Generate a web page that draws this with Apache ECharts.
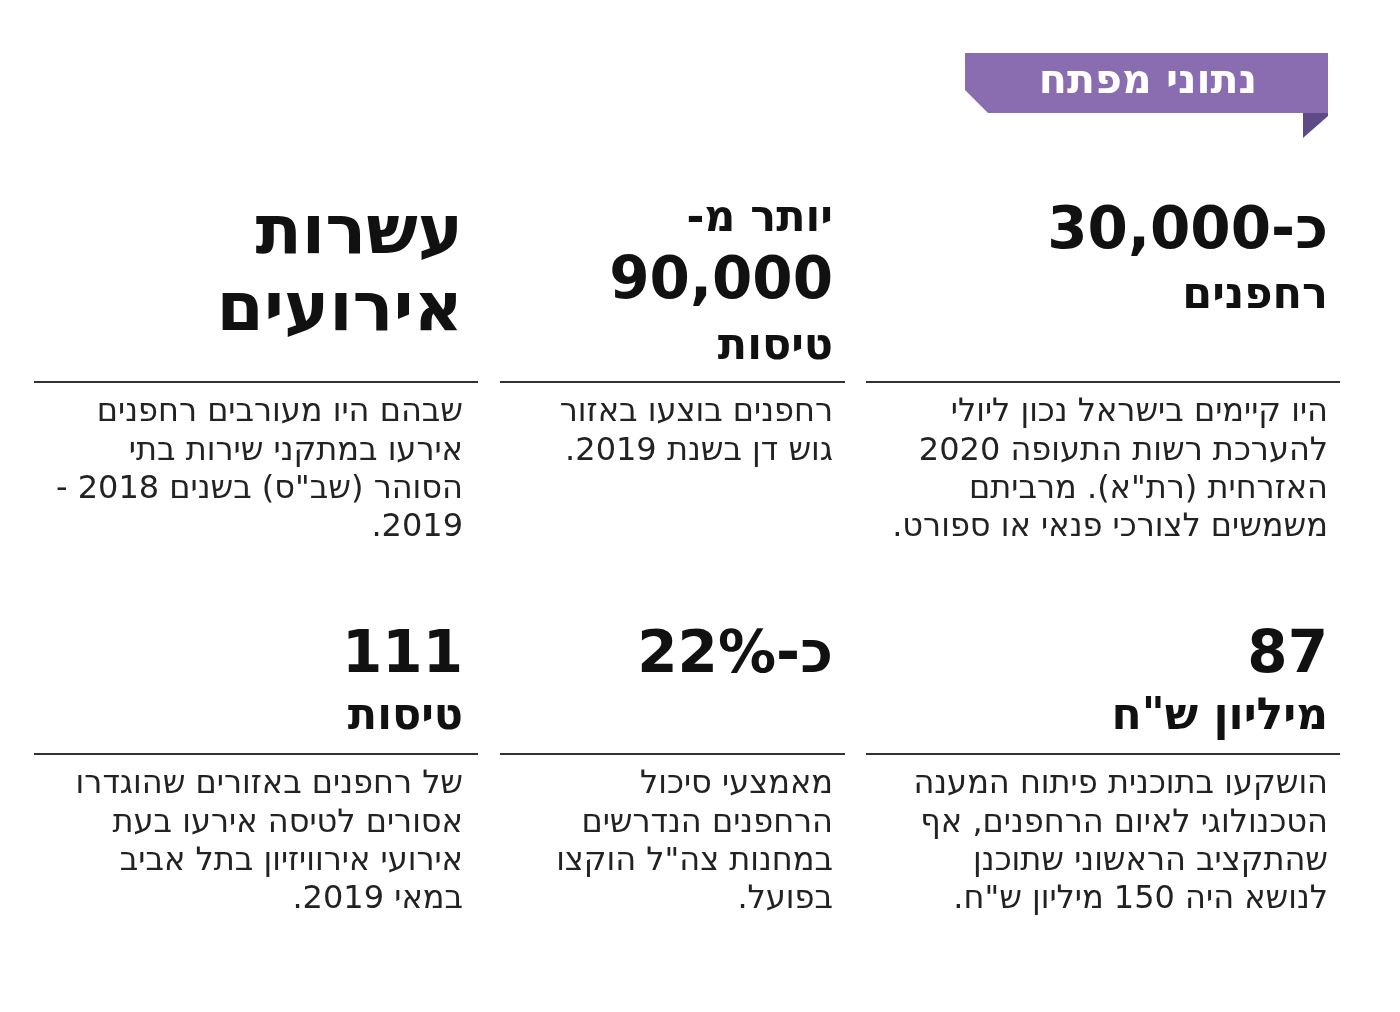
<!DOCTYPE html>
<html dir="rtl">
<head>
<meta charset="utf-8">
<script src="https://cdn.jsdelivr.net/npm/echarts@6/dist/echarts.min.js"></script>
<style>
  html, body { margin: 0; padding: 0; background: #fff; }
  #chart { width: 1400px; height: 1012px; direction: rtl; }
</style>
</head>
<body>
<div id="chart"></div>
<script>
var title = 'נתוני מפתח';

// right edge of each column (text is right aligned)
var colRight = [1328, 833, 463];
var ruleSpan = [[866, 1340], [500, 845], [34, 478]];

// headline lines per cell: [text, size, centerY]
var headlines = [
    [['כ-30,000', 58, 233], ['רחפנים', 43, 297]],
    [['יותר מ-', 43, 220], ['90,000', 58, 283], ['טיסות', 43, 348]],
    [['עשרות', 68, 235], ['אירועים', 68, 312]],
    [['87', 58, 657], ['מיליון ש"ח', 44, 718]],
    [['כ-22%', 58, 657]],
    [['111', 58, 657], ['טיסות', 43, 718]]
];

var descriptions = [
    ['היו קיימים בישראל נכון ליולי', 'להערכת רשות התעופה 2020', 'האזרחית (רת"א). מרביתם', 'משמשים לצורכי פנאי או ספורט.'],
    ['רחפנים בוצעו באזור', 'גוש דן בשנת 2019.'],
    ['שבהם היו מעורבים רחפנים', 'אירעו במתקני שירות בתי', 'הסוהר (שב"ס) בשנים 2018 -', '2019.'],
    ['הושקעו בתוכנית פיתוח המענה', 'הטכנולוגי לאיום הרחפנים, אף', 'שהתקציב הראשוני שתוכנן', 'לנושא היה 150 מיליון ש"ח.'],
    ['מאמצעי סיכול', 'הרחפנים הנדרשים', 'במחנות צה"ל הוקצו', 'בפועל.'],
    ['של רחפנים באזורים שהוגדרו', 'אסורים לטיסה אירעו בעת', 'אירועי אירוויזיון בתל אביב', 'במאי 2019.']
];

var rowRuleY = [382, 754];
var rowDescY = [413, 785];
var lineGap = 38.3;
var font = '"DejaVu Sans", "Liberation Sans", sans-serif';

var elements = [];

// ribbon
elements.push({
    type: 'polygon',
    shape: { points: [[965, 53], [1328, 53], [1328, 113], [988, 113], [965, 90]] },
    style: { fill: '#896db0' }
});
elements.push({
    type: 'polygon',
    shape: { points: [[1303, 113], [1328, 113], [1328, 116], [1303, 138]] },
    style: { fill: '#5f4a88' }
});
elements.push({
    type: 'text', x: 1148, y: 82,
    style: { text: title, fill: '#fff', font: 'bold 41px ' + font, textAlign: 'center', textVerticalAlign: 'middle' }
});

for (var i = 0; i < 6; i++) {
    var row = Math.floor(i / 3), col = i % 3;
    var x = colRight[col];
    headlines[i].forEach(function (h) {
        elements.push({
            type: 'text', x: x, y: h[2],
            style: { text: h[0], fill: '#111', font: 'bold ' + h[1] + 'px ' + font, textAlign: 'right', textVerticalAlign: 'middle' }
        });
    });
    elements.push({
        type: 'line',
        shape: { x1: ruleSpan[col][0], y1: rowRuleY[row], x2: ruleSpan[col][1], y2: rowRuleY[row] },
        style: { stroke: '#333', lineWidth: 2 }
    });
    descriptions[i].forEach(function (t, k) {
        elements.push({
            type: 'text', x: x, y: rowDescY[row] + k * lineGap,
            style: { text: t, fill: '#222', font: '32px ' + font, textAlign: 'right', textVerticalAlign: 'middle' }
        });
    });
}

var chart = echarts.init(document.getElementById('chart'));
chart.setOption({
    animation: false,
    backgroundColor: '#fff',
    graphic: { elements: elements }
});
</script>
</body>
</html>
